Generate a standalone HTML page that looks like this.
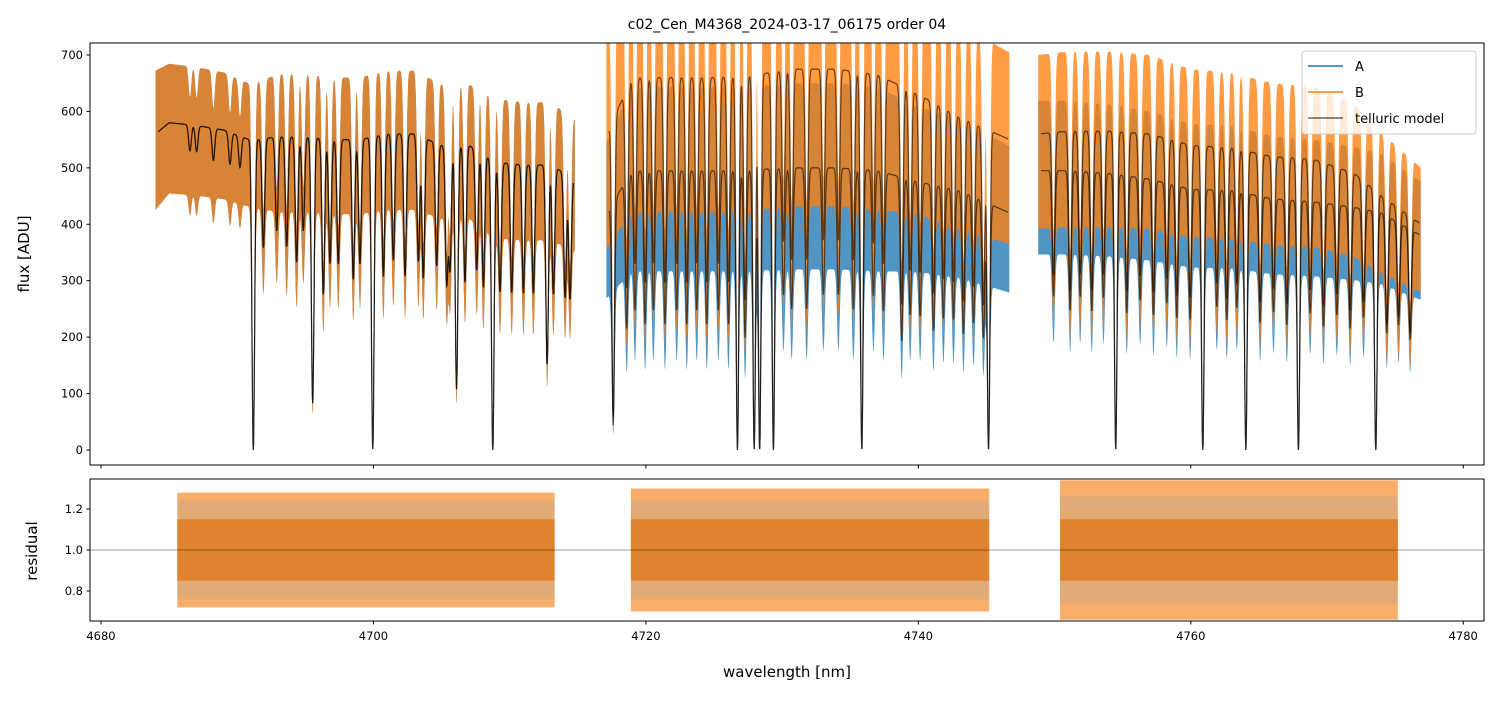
<!DOCTYPE html>
<html><head><meta charset="utf-8"><style>
html,body{margin:0;padding:0;background:#fff;}
svg text{font-family:"DejaVu Sans","Liberation Sans",sans-serif;fill:#000;}
</style></head><body>
<svg id="chart" width="1499" height="696" viewBox="0 0 1499 696" xmlns="http://www.w3.org/2000/svg">
<defs>
<clipPath id="clipTop"><rect x="90" y="43" width="1394" height="422"/></clipPath>
<clipPath id="clipBot"><rect x="90" y="479" width="1394" height="142"/></clipPath>
</defs>
<rect width="1499" height="696" fill="#fff"/>
<text x="787" y="29" font-size="14" text-anchor="middle">c02_Cen_M4368_2024-03-17_06175  order 04</text>
<g id="topData" clip-path="url(#clipTop)"></g>
<g id="botData" clip-path="url(#clipBot)"></g>
<rect x="90" y="43" width="1394" height="422" fill="none" stroke="#000" stroke-width="1"/>
<rect x="90" y="479" width="1394" height="142" fill="none" stroke="#000" stroke-width="1"/>
<g id="axes"></g>
<text transform="translate(29,254) rotate(-90)" font-size="15" text-anchor="middle">flux [ADU]</text>
<text transform="translate(37,551) rotate(-90)" font-size="15" text-anchor="middle">residual</text>
<text x="787" y="677" font-size="15" text-anchor="middle">wavelength [nm]</text>
<g>
<rect x="1302" y="51" width="174" height="83" rx="3" fill="#fff" fill-opacity="0.8" stroke="#ccc"/>
<line x1="1308" y1="66" x2="1343" y2="66" stroke="#1f77b4" stroke-width="1.5"/>
<text x="1355" y="71" font-size="13">A</text>
<line x1="1308" y1="92" x2="1343" y2="92" stroke="#ff7f0e" stroke-width="1.5"/>
<text x="1355" y="97" font-size="13">B</text>
<line x1="1308" y1="118" x2="1343" y2="118" stroke="#000" stroke-opacity="0.6" stroke-width="1.5"/>
<text x="1355" y="123" font-size="13">telluric model</text>
</g>
</svg>
<script>
// ---- data ----
const segStart = [4684.0, 4717.1, 4748.8];
const segEnd   = [4714.8, 4746.7, 4776.9];
const knotW  = [4684.0,4685,4687,4689,4691,4693,4695,4697,4699,4701,4703,4705,4707,4709,4711,4713,4714.8,
                4717.1,4719,4722,4725,4728,4731,4734,4737,4740,4743,4746.7,
                4748.8,4751,4754,4757,4760,4763,4766,4769,4772,4774,4776.9];
const contB  = [560,580,575,567,549,555,555,550,550,560,560,540,540,510,505,505,480,
                560,660,660,660,665,675,675,665,630,590,550,
                560,565,565,560,540,535,520,515,490,450,400];
const contA  = [560,580,575,567,549,555,555,550,550,560,560,540,540,510,505,505,480,
                420,495,495,495,497,500,500,495,475,460,420,
                495,495,490,480,462,460,445,440,430,420,380];
const spreadB = [0.2,0.18,0.18,0.18,0.18,0.2,0.2,0.2,0.2,0.2,0.2,0.2,0.2,0.22,0.22,0.22,0.22,
                0.3,0.3,0.3,0.3,0.3,0.3,0.3,0.3,0.28,0.28,0.28,
                0.25,0.25,0.25,0.25,0.25,0.25,0.25,0.25,0.25,0.25,0.25];
const spreadA = [0.2,0.18,0.18,0.18,0.18,0.2,0.2,0.2,0.2,0.2,0.2,0.2,0.2,0.22,0.22,0.22,0.22,
                0.3,0.3,0.3,0.3,0.3,0.3,0.3,0.3,0.28,0.28,0.28,
                0.25,0.25,0.25,0.25,0.25,0.25,0.25,0.25,0.25,0.25,0.25];
const lineW = [4691.18,4695.54,4699.95,4706.10,4708.76,4712.75,
  4686.53,4687.02,4688.25,4689.47,4690.20,4691.92,4692.90,4693.63,4694.36,4694.85,
  4696.32,4696.81,4697.42,4698.52,4699.01,4700.73,4701.46,4702.32,4703.30,4703.66,4704.64,4705.38,4705.62,
  4706.72,4707.58,4708.07,4709.29,4710.15,4711.01,4711.74,4713.21,4714.07,4714.43,
  4717.6,4726.72,4727.95,4728.35,4729.36,4735.85,4745.15,
  4718.59,4719.2,4719.94,4720.55,4721.4,4722.26,4723.0,4723.73,4724.47,4725.32,4726.06,4727.28,
  4730.1,4730.7,4731.8,4733.03,4734.13,4735.23,4736.7,4737.44,4738.78,4739.4,4740.13,4741.11,4741.84,4742.58,4743.31,4744.05,4744.78,
  4754.49,4760.88,4764.04,4767.9,4773.58,
  4749.92,4751.14,4751.88,4752.73,4753.59,4755.3,4756.28,4757.26,4758.24,4758.97,4759.95,4761.91,4762.64,4763.38,
  4765.09,4766.07,4767.05,4768.76,4769.74,4770.72,4771.7,4772.68,4774.39,4775.25,4776.1];
const lineD = [1,0.85,1,0.8,1,0.7,
  0.08,0.08,0.1,0.1,0.1,0.35,0.3,0.35,0.4,0.3,
  0.5,0.4,0.4,0.45,0.4,0.45,0.4,0.45,0.4,0.45,0.4,0.45,0.4,
  0.45,0.4,0.45,0.45,0.45,0.45,0.45,0.45,0.45,0.45,
  0.9,1,1,1,1,1,1,
  0.55,0.5,0.55,0.5,0.55,0.5,0.55,0.5,0.55,0.5,0.55,0.6,
  0.45,0.5,0.5,0.45,0.45,0.5,0.45,0.5,0.6,0.5,0.5,0.55,0.5,0.5,0.55,0.5,0.55,
  1,1,1,1,1,
  0.45,0.5,0.45,0.5,0.45,0.5,0.45,0.5,0.45,0.5,0.5,0.45,0.5,0.45,
  0.5,0.45,0.5,0.45,0.5,0.45,0.5,0.45,0.5,0.45,0.5];
const lineS = 0.14;
const resSegStart = [4685.6, 4718.9, 4750.4];
const resSegEnd   = [4713.3, 4745.2, 4775.2];
const resLoA = [0.76,0.76,0.74];
const resHiA = [1.24,1.24,1.26];
const resLoB = [0.72,0.7,0.66];
const resHiB = [1.28,1.3,1.34];
const yTicksTop = [0,100,200,300,400,500,600,700];
const yTicksBot = [0.8,1.0,1.2];
const xTicks = [4680,4700,4720,4740,4760,4780];

// ---- scales ----
const X = w => 101 + (w - 4680) * 13.6225;
const Y = f => 450 - f * 0.5643;
const Yr = r => 550 - (r - 1) * 205;
const NS = "http://www.w3.org/2000/svg";
function mk(tag, attrs, parent){const e=document.createElementNS(NS,tag);for(const k in attrs)e.setAttribute(k,attrs[k]);parent.appendChild(e);return e;}

function interp(arr, w){
  for(let i=0;i<knotW.length-1;i++){
    if(w>=knotW[i] && w<=knotW[i+1]){const t=(w-knotW[i])/(knotW[i+1]-knotW[i]);return arr[i]+(arr[i+1]-arr[i])*t;}
  }
  return w<knotW[0]?arr[0]:arr[arr.length-1];
}
function trans(w){
  let t=1;
  for(let i=0;i<lineW.length;i++){const d=(w-lineW[i])/lineS; if(Math.abs(d)<5) t*=1-lineD[i]*Math.exp(-d*d);}
  return Math.max(t,0);
}

const topG = document.getElementById('topData');
const botG = document.getElementById('botData');
const step = 0.02;
['A','B'].forEach(name=>{
  const cont = name==='A'?contA:contB, spr = name==='A'?spreadA:spreadB;
  for(let s=0;s<segStart.length;s++){
    const up=[],lo=[];
    for(let w=segStart[s]; w<=segEnd[s]; w+=step){
      const m = interp(cont,w)*trans(w), sp = interp(spr,w);
      up.push(X(w).toFixed(1)+','+Y(m*(1+sp)).toFixed(1));
      lo.push(X(w).toFixed(1)+','+Y(m*(1-sp*1.2)).toFixed(1));
    }
    const p = mk('polygon',{points:up.concat(lo.reverse()).join(' '),fill:name==='A'?'#1f77b4':'#ff7f0e','fill-opacity':0.78},topG);
    
    
  }
});
[contA, contB].forEach((cont,ci)=>{
  for(let s=0;s<segStart.length;s++){
    const pts=[];
    for(let w=segStart[s]+0.2; w<=segEnd[s]-0.1; w+=step){pts.push(X(w).toFixed(1)+','+Y(interp(cont,w)*trans(w)).toFixed(1));}
    const pl = mk('polyline',{points:pts.join(' '),fill:'none',stroke:'#000','stroke-opacity':0.6,'stroke-width':1.2},topG);
    
    
  }
});
for(let s=0;s<resSegStart.length;s++){
  const x0=X(resSegStart[s]), wd=X(resSegEnd[s])-X(resSegStart[s]);
  const rb = mk('rect',{x:x0,y:Yr(resHiB[s]),width:wd,height:Yr(resLoB[s])-Yr(resHiB[s]),fill:'#f5a050','fill-opacity':0.85},botG);
  
  
  const ra = mk('rect',{x:x0,y:Yr(resHiA[s]),width:wd,height:Yr(resLoA[s])-Yr(resHiA[s]),fill:'#6a9ac4','fill-opacity':0.15},botG);
  
  
  const rc = mk('rect',{x:x0,y:Yr(1.15),width:wd,height:Yr(0.85)-Yr(1.15),fill:'#e0832f','fill-opacity':1},botG);
  
  
}
const ref = mk('line',{x1:90,x2:1484,y1:Yr(1),y2:Yr(1),stroke:'#000','stroke-opacity':0.5,'stroke-width':0.8},botG);



const ax = document.getElementById('axes');
yTicksTop.forEach(v=>{
  const y=Y(v);
  const t=mk('line',{x1:86.5,x2:90,y1:y,y2:y,stroke:'#000'},ax);
  
  
  const l=mk('text',{x:83,y:y+4,'font-size':11.5,'text-anchor':'end'},ax);l.textContent=v;
  
  
});
yTicksBot.forEach(v=>{
  const y=Yr(v);
  const t=mk('line',{x1:86.5,x2:90,y1:y,y2:y,stroke:'#000'},ax);
  
  
  const l=mk('text',{x:83,y:y+4,'font-size':11.5,'text-anchor':'end'},ax);l.textContent=v.toFixed(1);
  
  
});
xTicks.forEach(v=>{
  const x=X(v);
  const t1=mk('line',{x1:x,x2:x,y1:465,y2:468.5,stroke:'#000'},ax);
  
  
  const t2=mk('line',{x1:x,x2:x,y1:621,y2:624.5,stroke:'#000'},ax);
  
  
  const l=mk('text',{x:x,y:640,'font-size':11.5,'text-anchor':'middle'},ax);l.textContent=v;
  
  
});
</script>
</body></html>
